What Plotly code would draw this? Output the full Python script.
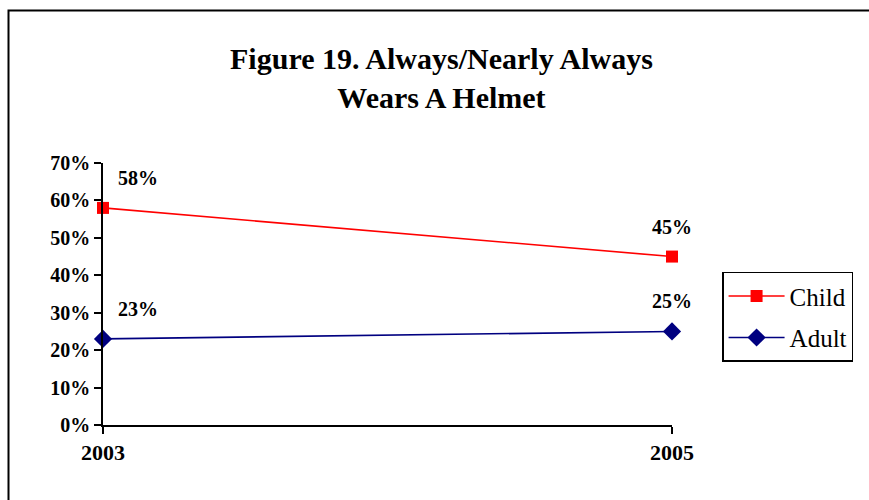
import plotly.graph_objects as go

# Survey years and share of riders who always / nearly always wear a helmet (%)
years = [2003, 2005]
child = [58, 45]
adult = [23, 25]
year_labels = ["2003", "2005"]
y_ticks = [0, 10, 20, 30, 40, 50, 60, 70]
y_tick_labels = [f"{v}%" for v in y_ticks]

SERIF = "Liberation Serif, Times New Roman, serif"

fig = go.Figure()

series = [
    ("Child", child, "#FF0000", "square", 12),
    ("Adult", adult, "#000080", "diamond", 14),
]

for name, vals, color, symbol, msize in series:
    fig.add_trace(go.Scatter(
        x=years, y=vals, name=name, mode="lines+markers",
        line=dict(color=color, width=1.6),
        marker=dict(symbol=symbol, size=msize, color=color),
        cliponaxis=False, legendgroup=name,
    ))
    # value labels above each point
    for x, v in zip(years, vals):
        fig.add_annotation(
            x=x, y=v, text=f"{v}%", showarrow=False,
            xshift=35 if x == years[0] else 0, yshift=30,
            font=dict(family=SERIF, size=20, color="black", weight="bold"),
        )

fig.update_layout(
    width=869, height=500,
    margin=dict(l=103, r=197, t=163, b=75),
    paper_bgcolor="white", plot_bgcolor="white",
    title=dict(
        text="Figure 19. Always/Nearly Always<br>Wears A Helmet",
        font=dict(family=SERIF, size=30, color="black", weight="bold"),
        xref="container", x=0.508, xanchor="center",
        yref="container", y=0.862, yanchor="top",
    ),
    legend=dict(
        x=1.088, xanchor="left", y=0.585, yanchor="top",
        bordercolor="black", borderwidth=1.5, bgcolor="white",
        font=dict(family=SERIF, size=25, color="black"),
        traceorder="grouped", tracegroupgap=6, itemwidth=56,
    ),
    showlegend=True,
)

fig.update_xaxes(
    type="linear", range=[years[0], years[-1]],
    tickvals=years, ticktext=year_labels,
    ticks="outside", ticklen=7, tickwidth=1.5, tickcolor="black",
    showline=True, linecolor="black", linewidth=1.5,
    showgrid=False, zeroline=False,
    tickfont=dict(family=SERIF, size=22, color="black", weight="bold"),
)
fig.update_yaxes(
    range=[0, 70], tickvals=y_ticks, ticktext=y_tick_labels,
    ticks="outside", ticklen=7, tickwidth=1.5, tickcolor="black",
    showline=True, linecolor="black", linewidth=1.5,
    showgrid=False, zeroline=False,
    tickfont=dict(family=SERIF, size=20, color="black", weight="bold"),
)

# frame around the whole chart area
fig.add_shape(
    type="rect", xref="paper", yref="paper",
    x0=(8.5 - 103) / 569, x1=(880 - 103) / 569,
    y0=(425 - 510) / 262, y1=(425 - 10.5) / 262,
    line=dict(color="black", width=2), layer="below",
)

fig.write_html("out.html")
